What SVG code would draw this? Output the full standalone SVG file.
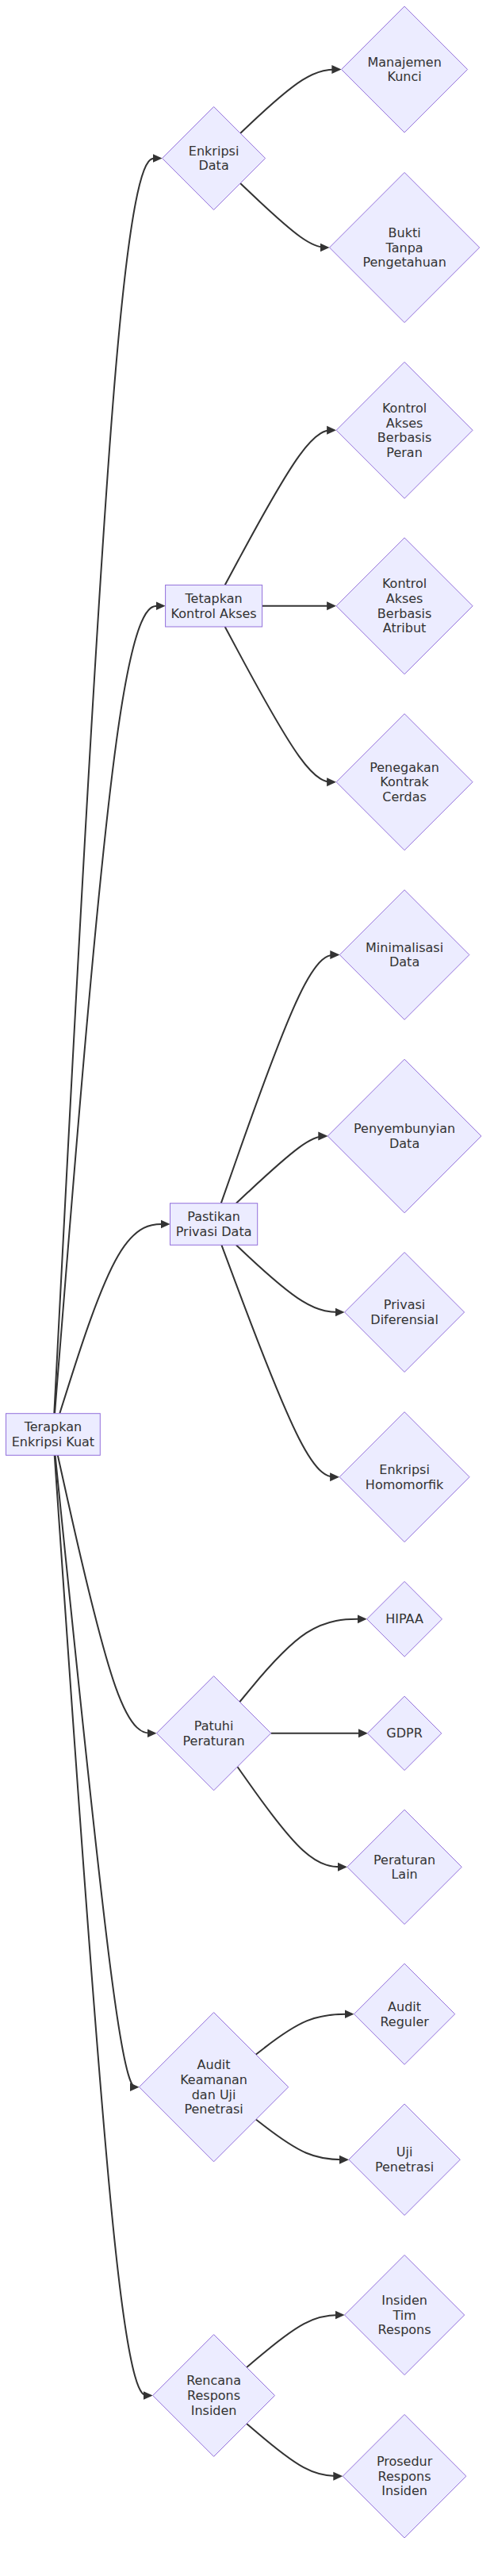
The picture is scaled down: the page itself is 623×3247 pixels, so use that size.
<svg xmlns="http://www.w3.org/2000/svg" width="623" height="3247" viewBox="0 0 623 3247">
<style>
.shape{fill:#ECECFF;stroke:#9370DB;stroke-width:1}
.lbl{font-family:"DejaVu Sans","Liberation Sans",sans-serif;font-size:16px;fill:#333333;text-anchor:middle}
.edge{fill:none;stroke:#333333;stroke-width:2}
</style>
<defs>
<marker id="arrow" markerUnits="userSpaceOnUse" markerWidth="12" markerHeight="12" viewBox="0 0 12 12" refX="9" refY="6" orient="auto">
<path d="M0,0.5 L12,6 L0,11.5 z" fill="#333333"/>
</marker>
</defs>
<rect width="623" height="3247" fill="#ffffff"/>
<g id="connectors">
<path class="edge" marker-end="url(#arrow)" d="M68.3,1781.7 L82.08,1518.0 C95.87,1254.3 123.43,726.9 146.15,463.2 C168.87,199.5 186.73,199.5 195.67,199.5 L201.6,199.5"/>
<path class="edge" marker-end="url(#arrow)" d="M69,1781.7 L82.67,1612.03 C96.33,1442.37 123.67,1103.03 146.93,933.37 C170.2,763.7 189.4,763.7 199,763.7 L205.6,763.7"/>
<path class="edge" marker-end="url(#arrow)" d="M75.25,1781.7 L87.88,1741.92 C100.5,1702.13 125.75,1622.57 148.96,1582.78 C172.17,1543 193.33,1543 203.92,1543 L211.5,1543"/>
<path class="edge" marker-end="url(#arrow)" d="M72.77,1834.3 L85.81,1892.7 C98.85,1951.1 124.92,2067.9 145.71,2126.3 C166.5,2184.7 182,2184.7 189.75,2184.7 L194.5,2184.7"/>
<path class="edge" marker-end="url(#arrow)" d="M69.59,1834.3 L83.16,1967.03 C96.73,2099.77 123.86,2365.23 141.53,2497.97 C159.2,2630.7 167.4,2630.7 171.5,2630.7 L172.6,2630.7"/>
<path class="edge" marker-end="url(#arrow)" d="M68.73,1834.3 L82.44,2031.83 C96.15,2229.37 123.58,2624.43 144.24,2821.97 C164.9,3019.5 178.8,3019.5 185.75,3019.5 L189.7,3019.5"/>
<path class="edge" marker-end="url(#arrow)" d="M303.09,167.98 L317.34,154.57 C331.59,141.15 360.1,114.33 381.32,100.91 C402.53,87.5 416.47,87.5 423.43,87.5 L427.4,87.5"/>
<path class="edge" marker-end="url(#arrow)" d="M303.01,231.09 L317.28,244.58 C331.54,258.06 360.07,285.03 378.82,298.52 C397.57,312 406.53,312 411.02,312 L412.5,312"/>
<path class="edge" marker-end="url(#arrow)" d="M283.79,737.3 L301.26,704.8 C318.73,672.3 353.66,607.3 377.05,574.8 C400.43,542.3 412.27,542.3 418.18,542.3 L421.1,542.3"/>
<path class="edge" marker-end="url(#arrow)" d="M330.6,763.8 L421.1,763.8"/>
<path class="edge" marker-end="url(#arrow)" d="M283.7,790 L301.18,822.62 C318.67,855.23 353.63,920.47 377.03,953.08 C400.43,985.7 412.27,985.7 418.18,985.7 L421.1,985.7"/>
<path class="edge" marker-end="url(#arrow)" d="M278.82,1516.7 L297.12,1464.5 C315.41,1412.3 352.01,1307.9 376.92,1255.7 C401.83,1203.5 415.07,1203.5 421.68,1203.5 L425.3,1203.5"/>
<path class="edge" marker-end="url(#arrow)" d="M297.8,1516.7 L312.93,1502.58 C328.07,1488.47 358.33,1460.23 377.58,1446.12 C396.83,1432 405.07,1432 409.18,1432 L410.3,1432"/>
<path class="edge" marker-end="url(#arrow)" d="M297.8,1569.3 L312.93,1583.42 C328.07,1597.53 358.33,1625.77 381.13,1639.88 C403.93,1654 419.27,1654 426.93,1654 L431.6,1654"/>
<path class="edge" marker-end="url(#arrow)" d="M279.42,1569.3 L297.62,1618.03 C315.81,1666.77 352.21,1764.23 376.99,1812.97 C401.77,1861.7 414.93,1861.7 421.52,1861.7 L425.1,1861.7"/>
<path class="edge" marker-end="url(#arrow)" d="M302.23,2145.24 L316.63,2127.83 C331.02,2110.43 359.81,2075.61 386.56,2058.21 C413.3,2040.8 438,2040.8 450.35,2040.8 L459.7,2040.8"/>
<path class="edge" marker-end="url(#arrow)" d="M341.7,2184.8 L460.9,2184.8"/>
<path class="edge" marker-end="url(#arrow)" d="M299.43,2226.97 L314.29,2248.03 C329.15,2269.08 358.88,2311.19 381.96,2332.25 C405.03,2353.3 421.47,2353.3 429.68,2353.3 L434.9,2353.3"/>
<path class="edge" marker-end="url(#arrow)" d="M322.61,2589.71 L333.61,2581.21 C344.61,2572.71 366.6,2555.7 387.25,2547.2 C407.9,2538.7 427.2,2538.7 436.85,2538.7 L443.5,2538.7"/>
<path class="edge" marker-end="url(#arrow)" d="M322.74,2671.56 L333.72,2680 C344.69,2688.44 366.65,2705.32 386.19,2713.76 C405.73,2722.2 422.87,2722.2 431.43,2722.2 L437,2722.2"/>
<path class="edge" marker-end="url(#arrow)" d="M311.1,2984.1 L324.02,2973.08 C336.93,2962.07 362.77,2940.03 383.35,2929.02 C403.93,2918 419.27,2918 426.93,2918 L431.6,2918"/>
<path class="edge" marker-end="url(#arrow)" d="M311.06,3054.94 L323.98,3065.98 C336.91,3077.03 362.75,3099.11 382.96,3110.16 C403.17,3121.2 417.73,3121.2 425.02,3121.2 L429.3,3121.2"/>
</g>
<g id="root">
<rect class="shape" x="7.5" y="1781.7" width="118.8" height="52.6"/>
<text class="lbl" x="66.9" y="1804.2">Terapkan</text>
<text class="lbl" x="66.9" y="1822.8">Enkripsi Kuat</text>
</g>
<g id="enkripsi-data">
<polygon class="shape" points="269.6,134.5 334.6,199.5 269.6,264.5 204.6,199.5"/>
<text class="lbl" x="269.6" y="195.7">Enkripsi</text>
<text class="lbl" x="269.6" y="214.3">Data</text>
</g>
<g id="manajemen-kunci">
<polygon class="shape" points="510.1,8 589.6,87.5 510.1,167 430.6,87.5"/>
<text class="lbl" x="510.1" y="83.7">Manajemen</text>
<text class="lbl" x="510.1" y="102.3">Kunci</text>
</g>
<g id="bukti-tanpa-pengetahuan">
<polygon class="shape" points="510.1,217.4 604.7,312 510.1,406.6 415.5,312"/>
<text class="lbl" x="510.1" y="298.9">Bukti</text>
<text class="lbl" x="510.1" y="317.5">Tanpa</text>
<text class="lbl" x="510.1" y="336.1">Pengetahuan</text>
</g>
<g id="tetapkan-kontrol-akses">
<rect class="shape" x="208.6" y="737.4" width="122" height="52.6"/>
<text class="lbl" x="269.6" y="759.9">Tetapkan</text>
<text class="lbl" x="269.6" y="778.5">Kontrol Akses</text>
</g>
<g id="kontrol-akses-peran">
<polygon class="shape" points="510.1,456.3 596.1,542.3 510.1,628.3 424.1,542.3"/>
<text class="lbl" x="510.1" y="519.9">Kontrol</text>
<text class="lbl" x="510.1" y="538.5">Akses</text>
<text class="lbl" x="510.1" y="557.1">Berbasis</text>
<text class="lbl" x="510.1" y="575.7">Peran</text>
</g>
<g id="kontrol-akses-atribut">
<polygon class="shape" points="510.1,677.8 596.1,763.8 510.1,849.8 424.1,763.8"/>
<text class="lbl" x="510.1" y="741.4">Kontrol</text>
<text class="lbl" x="510.1" y="760">Akses</text>
<text class="lbl" x="510.1" y="778.6">Berbasis</text>
<text class="lbl" x="510.1" y="797.2">Atribut</text>
</g>
<g id="penegakan-kontrak-cerdas">
<polygon class="shape" points="510.1,899.7 596.1,985.7 510.1,1071.7 424.1,985.7"/>
<text class="lbl" x="510.1" y="972.6">Penegakan</text>
<text class="lbl" x="510.1" y="991.2">Kontrak</text>
<text class="lbl" x="510.1" y="1009.8">Cerdas</text>
</g>
<g id="pastikan-privasi-data">
<rect class="shape" x="214.5" y="1516.7" width="110.2" height="52.6"/>
<text class="lbl" x="269.6" y="1539.2">Pastikan</text>
<text class="lbl" x="269.6" y="1557.8">Privasi Data</text>
</g>
<g id="minimalisasi-data">
<polygon class="shape" points="510.1,1121.7 591.9,1203.5 510.1,1285.3 428.3,1203.5"/>
<text class="lbl" x="510.1" y="1199.7">Minimalisasi</text>
<text class="lbl" x="510.1" y="1218.3">Data</text>
</g>
<g id="penyembunyian-data">
<polygon class="shape" points="510.1,1335.2 606.9,1432 510.1,1528.8 413.3,1432"/>
<text class="lbl" x="510.1" y="1428.2">Penyembunyian</text>
<text class="lbl" x="510.1" y="1446.8">Data</text>
</g>
<g id="privasi-diferensial">
<polygon class="shape" points="510.1,1578.5 585.6,1654 510.1,1729.5 434.6,1654"/>
<text class="lbl" x="510.1" y="1650.2">Privasi</text>
<text class="lbl" x="510.1" y="1668.8">Diferensial</text>
</g>
<g id="enkripsi-homomorfik">
<polygon class="shape" points="510.1,1779.7 592.1,1861.7 510.1,1943.7 428.1,1861.7"/>
<text class="lbl" x="510.1" y="1857.9">Enkripsi</text>
<text class="lbl" x="510.1" y="1876.5">Homomorfik</text>
</g>
<g id="patuhi-peraturan">
<polygon class="shape" points="269.6,2112.6 341.7,2184.7 269.6,2256.8 197.5,2184.7"/>
<text class="lbl" x="269.6" y="2180.9">Patuhi</text>
<text class="lbl" x="269.6" y="2199.5">Peraturan</text>
</g>
<g id="hipaa">
<polygon class="shape" points="510.1,1993.4 557.5,2040.8 510.1,2088.2 462.7,2040.8"/>
<text class="lbl" x="510.1" y="2046.3">HIPAA</text>
</g>
<g id="gdpr">
<polygon class="shape" points="510.1,2138.1 556.8,2184.8 510.1,2231.5 463.4,2184.8"/>
<text class="lbl" x="510.1" y="2190.3">GDPR</text>
</g>
<g id="peraturan-lain">
<polygon class="shape" points="510.1,2281.1 582.3,2353.3 510.1,2425.5 437.9,2353.3"/>
<text class="lbl" x="510.1" y="2349.5">Peraturan</text>
<text class="lbl" x="510.1" y="2368.1">Lain</text>
</g>
<g id="audit-keamanan">
<polygon class="shape" points="269.6,2536.6 363.7,2630.7 269.6,2724.8 175.5,2630.7"/>
<text class="lbl" x="269.6" y="2608.3">Audit</text>
<text class="lbl" x="269.6" y="2626.9">Keamanan</text>
<text class="lbl" x="269.6" y="2645.5">dan Uji</text>
<text class="lbl" x="269.6" y="2664.1">Penetrasi</text>
</g>
<g id="audit-reguler">
<polygon class="shape" points="510.1,2475.1 573.7,2538.7 510.1,2602.3 446.5,2538.7"/>
<text class="lbl" x="510.1" y="2534.9">Audit</text>
<text class="lbl" x="510.1" y="2553.5">Reguler</text>
</g>
<g id="uji-penetrasi">
<polygon class="shape" points="510.1,2652 580.3,2722.2 510.1,2792.4 439.9,2722.2"/>
<text class="lbl" x="510.1" y="2718.4">Uji</text>
<text class="lbl" x="510.1" y="2737">Penetrasi</text>
</g>
<g id="rencana-respons-insiden">
<polygon class="shape" points="269.6,2942.6 346.5,3019.5 269.6,3096.4 192.7,3019.5"/>
<text class="lbl" x="269.6" y="3006.4">Rencana</text>
<text class="lbl" x="269.6" y="3025">Respons</text>
<text class="lbl" x="269.6" y="3043.6">Insiden</text>
</g>
<g id="insiden-tim-respons">
<polygon class="shape" points="510.1,2842.4 585.7,2918 510.1,2993.6 434.5,2918"/>
<text class="lbl" x="510.1" y="2904.9">Insiden</text>
<text class="lbl" x="510.1" y="2923.5">Tim</text>
<text class="lbl" x="510.1" y="2942.1">Respons</text>
</g>
<g id="prosedur-respons-insiden">
<polygon class="shape" points="510.1,3043.4 587.9,3121.2 510.1,3199 432.3,3121.2"/>
<text class="lbl" x="510.1" y="3108.1">Prosedur</text>
<text class="lbl" x="510.1" y="3126.7">Respons</text>
<text class="lbl" x="510.1" y="3145.3">Insiden</text>
</g>
</svg>
